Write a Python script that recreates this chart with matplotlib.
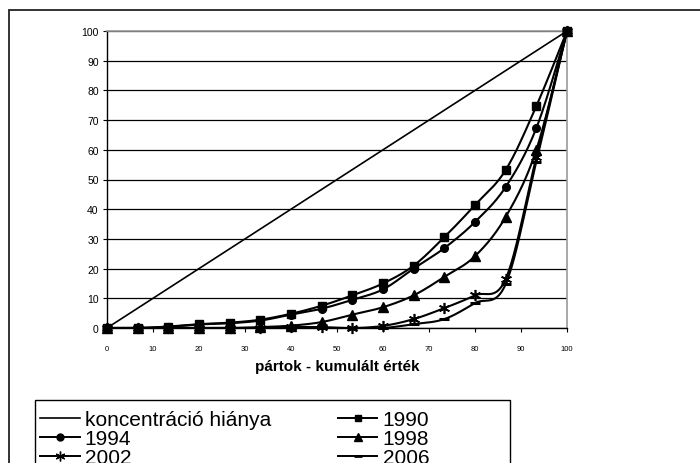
import numpy as np
import matplotlib
matplotlib.use('Agg')
import matplotlib.pyplot as plt
from matplotlib.patches import Rectangle
from matplotlib.lines import Line2D

# x: cumulative share of parties (15 parties -> 16 points)
party_share = [0, 6.67, 13.33, 20, 26.67, 33.33, 40, 46.67, 53.33,
               60, 66.67, 73.33, 80, 86.67, 93.33, 100]
equality = party_share[:]  # koncentráció hiánya
y1990 = [0, 0, 0.5, 1.3, 1.8, 2.8, 4.8, 7.5, 11, 15, 21, 30.6, 41.4, 53.2, 74.7, 100]
y1994 = [0, 0, 0.4, 1.2, 1.6, 2.5, 4.5, 6.5, 9.5, 13, 20, 26.9, 35.7, 47.5, 67.3, 100]
y1998 = [0, 0, 0, 0, 0, 0.3, 0.8, 2, 4.5, 7, 11, 17.2, 24.2, 37.4, 60, 100]
y2002 = [0, 0, 0, 0, 0, 0, 0.3, 0.3, 0, 0.7, 3, 6.7, 11, 16.5, 57.5, 100]
y2006 = [0, 0, 0, 0, 0, 0, 0, 0, 0, 0, 1.3, 3, 8.4, 14.8, 56, 100]

x_ticks = list(range(0, 101, 10))
y_ticks = list(range(0, 101, 10))


def smooth(x, y, n=24):
    # excel-style smoothed line (catmull-rom through the points)
    pts = np.column_stack([x, y]).astype(float)
    p = np.vstack([pts[0], pts, pts[-1]])
    out = []
    t = np.linspace(0, 1, n)[:, None]
    for i in range(1, len(p) - 2):
        p0, p1, p2, p3 = p[i - 1], p[i], p[i + 1], p[i + 2]
        c1 = p1 + (p2 - p0) / 6
        c2 = p2 - (p3 - p1) / 6
        seg = (1 - t)**3 * p1 + 3 * (1 - t)**2 * t * c1 + 3 * (1 - t) * t**2 * c2 + t**3 * p2
        out.append(seg)
    s = np.vstack(out)
    return s[:, 0], s[:, 1]


plt.rcParams['font.family'] = ['Liberation Sans', 'DejaVu Sans']
fig = plt.figure(figsize=(7, 4.64), dpi=100)

# chart area border
fig.patches.append(Rectangle((9 / 700, -0.2), 1.2, 1.2 - 11 / 464,
                             transform=fig.transFigure, fill=False,
                             edgecolor='#222222', lw=1.3))
# legend box (drawn separately, it is wider than the entries)
fig.patches.append(Rectangle((35 / 700, -0.2), 475 / 700, 0.2 + 1 - 401 / 464,
                             transform=fig.transFigure, fill=False,
                             edgecolor='black', lw=1.0))

ax = fig.add_axes([107 / 700, 1 - 329 / 464, 460 / 700, 297 / 464])

series = [
    ('1990', y1990, dict(marker='s', ms=5.5)),
    ('1994', y1994, dict(marker='o', ms=5.5)),
    ('1998', y1998, dict(marker='^', ms=6.5)),
    ('2002', y2002, dict(marker=(6, 2, 0), ms=8, mew=1.2)),
    ('2006', y2006, dict(marker='_', ms=7, mew=2.2)),
]

ax.plot(party_share, equality, color='black', lw=1.2, zorder=3)
for name, ys, mk in series:
    sx, sy = smooth(party_share, ys)
    ax.plot(sx, sy, color='black', lw=1.5, zorder=3)
    ax.plot(party_share, ys, ls='none', color='black', mfc='black', mec='black',
            zorder=4, clip_on=False, **mk)

ax.set_xlim(0, 100)
ax.set_ylim(0, 100)
ax.set_xticks(x_ticks)
ax.set_yticks(y_ticks)
ax.yaxis.grid(True, color='black', lw=0.9)
ax.set_axisbelow(True)
ax.tick_params(axis='x', labelsize=5.5, length=3, width=0.8, direction='out', pad=9)
ax.tick_params(axis='y', labelsize=7.5, length=3, width=0.8, direction='out', pad=3)
for s in ['top', 'right']:
    ax.spines[s].set_color('#999999')
    ax.spines[s].set_linewidth(1.2)
for s in ['left', 'bottom']:
    ax.spines[s].set_color('black')
    ax.spines[s].set_linewidth(1.0)
ax.set_xlabel('pártok - kumulált érték', fontsize=11, fontweight='bold', labelpad=5)

# legend
handles = [
    Line2D([], [], color='black', lw=1.2),
    Line2D([], [], color='black', lw=1.4, marker='o', ms=5),
    Line2D([], [], color='black', lw=1.4, marker=(6, 2, 0), ms=7, mew=1.0),
    Line2D([], [], color='black', lw=1.4, marker='s', ms=5),
    Line2D([], [], color='black', lw=1.4, marker='^', ms=5.5),
    Line2D([], [], color='black', lw=1.4, marker='_', ms=6, mew=2),
]
labels = ['koncentráció hiánya', '1994', '2002', '1990', '1998', '2006']
leg = fig.legend(handles, labels, ncol=2, loc='upper left',
                 bbox_to_anchor=(40 / 700, 1 - 411 / 464), fontsize=15,
                 frameon=False, borderpad=0, labelspacing=0.0,
                 handlelength=1.9, handletextpad=0.25, columnspacing=3.2,
                 borderaxespad=0)

fig.savefig('out.png', dpi=100)
